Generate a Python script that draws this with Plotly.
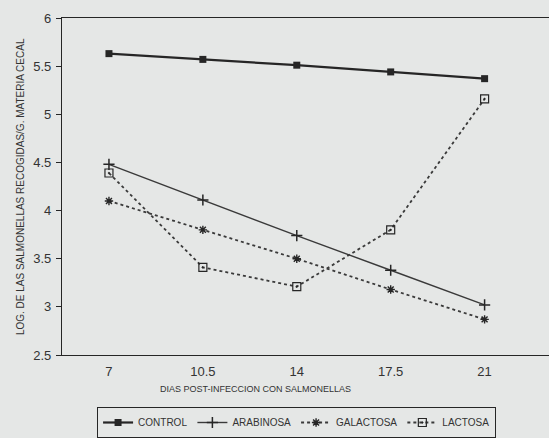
import plotly.graph_objects as go

dias = [7, 10.5, 14, 17.5, 21]
control = [5.63, 5.57, 5.51, 5.44, 5.37]
arabinosa = [4.48, 4.11, 3.74, 3.38, 3.02]
galactosa = [4.10, 3.80, 3.50, 3.18, 2.87]
lactosa = [4.39, 3.41, 3.21, 3.80, 5.16]

x_ticks = [7, 10.5, 14, 17.5, 21]
x_labels = ["7", "10.5", "14", "17.5", "21"]
y_ticks = [2.5, 3, 3.5, 4, 4.5, 5, 5.5, 6]
y_labels = ["2.5", "3", "3.5", "4", "4.5", "5", "5.5", "6"]

ink = "#262626"
bg = "#e5e7e6"
txt = "#333333"

fig = go.Figure()
fig.add_trace(go.Scatter(x=dias, y=control, name="CONTROL", mode="lines+markers",
                         line=dict(color=ink, width=2.2),
                         marker=dict(symbol="square", size=7, color=ink)))
fig.add_trace(go.Scatter(x=dias, y=arabinosa, name="ARABINOSA", mode="lines+markers",
                         line=dict(color="#3a3a3a", width=1.4),
                         marker=dict(symbol="cross-thin", size=8, line=dict(color=ink, width=1.5))))
fig.add_trace(go.Scatter(x=dias, y=galactosa, name="GALACTOSA", mode="lines+markers",
                         line=dict(color="#3a3a3a", width=1.8, dash="dot"),
                         marker=dict(symbol="asterisk", size=7, line=dict(color=ink, width=1.4))))
fig.add_trace(go.Scatter(x=dias, y=lactosa, name="LACTOSA", mode="lines+markers",
                         line=dict(color="#3a3a3a", width=1.8, dash="dot"),
                         marker=dict(symbol="square-open-dot", size=8, color=ink,
                                     line=dict(color=ink, width=1.2))))

fig.update_layout(
    width=549, height=438,
    margin=dict(l=62, r=0, t=18, b=77),
    paper_bgcolor=bg, plot_bgcolor=bg,
    font=dict(family="Liberation Sans, Arial, sans-serif", color=txt),
    xaxis=dict(range=[5.25, 23.4], tickvals=x_ticks, ticktext=x_labels,
               showgrid=False, zeroline=False, showline=True, mirror=True,
               linecolor=ink, linewidth=1.2, ticks="", automargin=False,
               ticklabelstandoff=4,
               tickfont=dict(size=13, color=txt)),
    yaxis=dict(range=[2.5, 6], tickvals=y_ticks, ticktext=y_labels,
               showgrid=False, zeroline=False, showline=True, automargin=False,
               linecolor=ink, linewidth=1.2, ticks="outside", ticklen=5,
               ticklabelstandoff=2,
               tickcolor=ink, tickfont=dict(size=13, color=txt)),
    legend=dict(orientation="h", x=0.072, y=-0.155, xanchor="left", yanchor="top",
                bgcolor=bg, bordercolor=ink, borderwidth=1,
                font=dict(size=10, color=txt),
                itemwidth=30, tracegroupgap=0),
    showlegend=True,
    annotations=[
        dict(text="DIAS POST-INFECCION CON SALMONELLAS", xref="paper", yref="paper",
             x=0.398, y=-0.10, xanchor="center", yanchor="middle", showarrow=False,
             font=dict(size=9, color=txt)),
        dict(text="LOG. DE LAS SALMONELLAS RECOGIDAS/G. MATERIA CECAL", xref="paper", yref="paper",
             x=-0.085, y=0.5, xanchor="center", yanchor="middle", showarrow=False,
             textangle=-90, font=dict(size=10, color=txt)),
    ],
)

fig.write_html("out.html", config={"displayModeBar": False},
               post_script=("document.body.style.margin='0';"
                            "document.body.style.overflow='hidden';"
                            "document.documentElement.style.overflow='hidden';"
                            "document.body.style.background='%s';" % bg))
